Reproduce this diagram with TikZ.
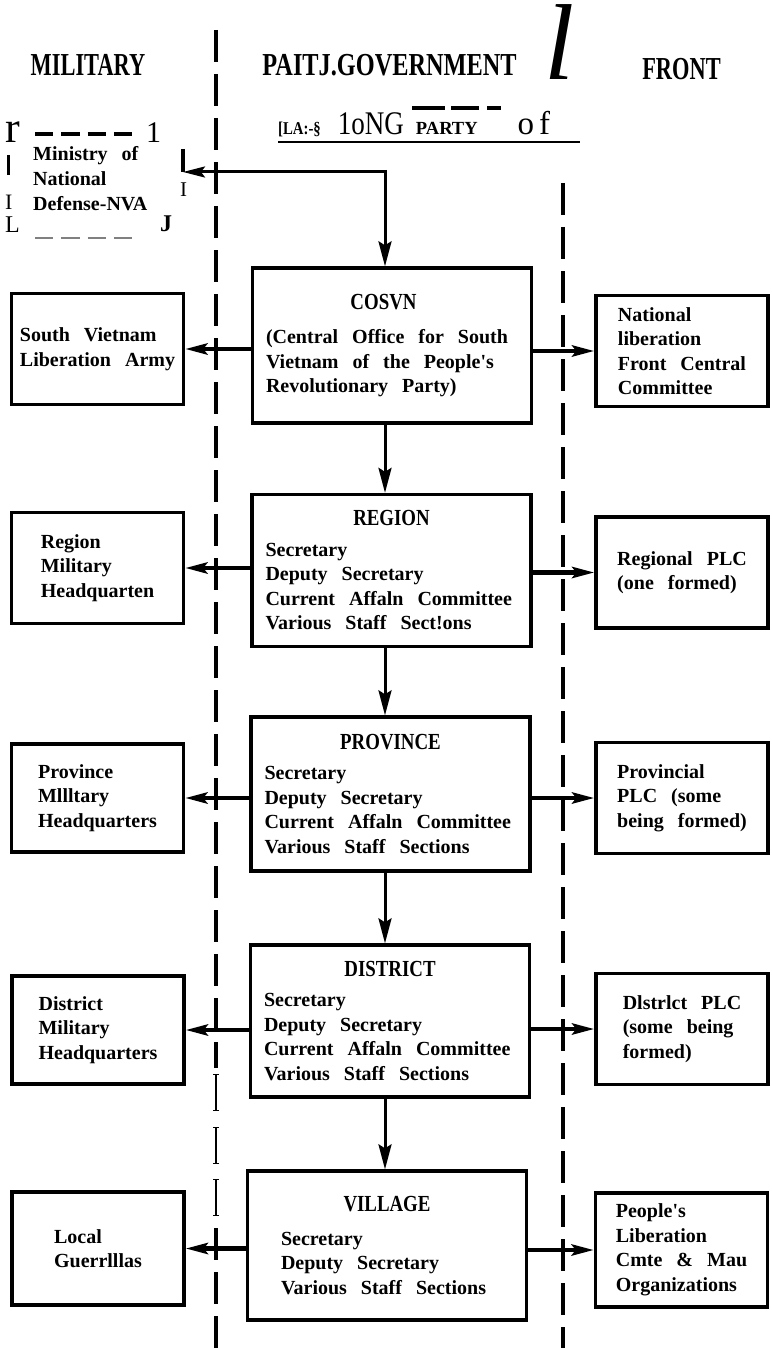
\documentclass[tikz,border=0pt]{standalone}
\usepackage{fontspec}
\usepackage{tikz}
\usetikzlibrary{arrows.meta}
\setmainfont{Liberation Serif}
\newfontfamily\boxfont{Liberation Serif}[WordSpace=2.8]
\newfontfamily\headfont{Liberation Serif}[FakeStretch=0.82]
\newfontfamily\titlefont{Liberation Serif}[FakeStretch=0.7]
\newfontfamily\govfont{Liberation Serif}[FakeStretch=0.76]
\newcommand\leveltitle[1]{{\headfont\bfseries\fontsize{23}{23}\selectfont #1}}
\tikzset{
    org-box/.style = {draw, line width=3.3pt, align=left, inner sep=0pt, font=\boxfont\bfseries\fontsize{20}{24.5}\selectfont},
    center-box/.style = {org-box, align=flush left, text width=252pt, minimum width=279pt, minimum height=152pt},
    side-box/.style = {org-box, minimum width=172pt, minimum height=111pt},
    column-title/.style = {anchor=base, inner sep=0pt, font=\titlefont\bfseries\fontsize{32}{32}\selectfont},
    glyph/.style = {anchor=base west, inner sep=0pt},
    down-arrow/.style = {line width=3pt, -{Stealth[length=25pt, width=13pt, inset=4pt]}},
    side-arrow/.style = {line width=4.5pt, -{Stealth[length=22pt, width=11pt, inset=4pt]}},
    divider/.style = {line width=3.5pt, dash pattern=on 32pt off 12pt},
}

\begin{document}
\begin{tikzpicture}[x=1pt, y=-1pt]
\useasboundingbox[fill=white] (0,0) rectangle (771,1348);

\node[column-title] (mil-title) at (88,76) {MILITARY};
\node[column-title, font=\govfont\bfseries\fontsize{32}{32}\selectfont] (gov-title) at (389.5,76) {PAITJ.GOVERNMENT};
\node[column-title] (front-title) at (681.5,80) {FRONT};
\node[anchor=base, inner sep=0pt, font=\fontsize{108}{108}\selectfont\itshape] (big-l) at (559,80) {\smash{l}};

\node[glyph] (party-line) at (278,135) {{\headfont\bfseries\fontsize{18}{18}\selectfont [LA:-§}\hspace{17pt}{\headfont\fontsize{33}{33}\selectfont 1oNG}\hspace{12pt}{\bfseries\fontsize{18.5}{18.5}\selectfont PARTY}\hspace{40pt}{\fontsize{33}{33}\selectfont o\hspace{5pt}f}};
\draw[line width=2pt] (278,142) -- (580,142);
\foreach \a/\b in {412/445, 451/479, 487/501}
    \draw[line width=3.5pt] (\a,108) -- (\b,108);

\draw[divider] (216,30) -- (216,1068);
\draw[divider] (216,1228) -- (216,1348);
\draw[divider] (563,183) -- (563,1348);
\foreach \y in {1074,1127,1179}
    \draw[line width=1.3pt, {Bar[width=6pt]}-{Bar[width=6pt]}] (216,\y) -- ++(0,37);

\node[glyph, font=\fontsize{44}{44}\selectfont] (mnd-r) at (5,143) {r};
\node[glyph, font=\fontsize{30}{30}\selectfont] (mnd-one) at (146,143) {1};
\node[glyph, font=\fontsize{22}{22}\selectfont] (mnd-i) at (5,210) {I};
\node[glyph, font=\fontsize{24}{24}\selectfont] (mnd-l) at (5,233) {L};
\node[glyph, font=\bfseries\fontsize{24}{24}\selectfont] (mnd-j) at (160,232) {J};
\node[glyph, font=\fontsize{21}{21}\selectfont] (mnd-i2) at (180,197) {I};
\draw[line width=4pt, dash pattern=on 18.3pt off 8pt] (35,134) -- (132,134);
\draw[gray, line width=2pt, dash pattern=on 18.3pt off 8pt] (35,238) -- (132,238);
\draw[line width=3pt] (8,155) -- (8,175);
\node[anchor=north west, align=left, inner sep=0pt, font=\boxfont\bfseries\fontsize{20}{25}\selectfont] (mnd) at (33,146) {Ministry of\\National\\Defense-NVA};

\node[center-box, minimum height=155pt] (cosvn) at (392,345.5) {\noindent\makebox[\hsize]{\leveltitle{COSVN}\hspace{17pt}}\\[10pt]
    (Central Office for South\\
    Vietnam of the People's\\
    Revolutionary Party)};
\node[center-box] (region) at (391.5,570.5) {\noindent\makebox[\hsize]{\leveltitle{REGION}}\\[6pt]
    Secretary\\
    Deputy Secretary\\
    Current Affaln Committee\\
    Various Staff Sect!ons};
\node[center-box, minimum height=154pt] (province) at (390.5,794) {\noindent\makebox[\hsize]{\leveltitle{PROVINCE}}\\[6pt]
    Secretary\\
    Deputy Secretary\\
    Current Affaln Committee\\
    Various Staff Sections};
\node[center-box] (district) at (390,1021) {\noindent\makebox[\hsize]{\leveltitle{DISTRICT}}\\[6pt]
    Secretary\\
    Deputy Secretary\\
    Current Affaln Committee\\
    Various Staff Sections};
\node[center-box, text width=212pt, minimum height=149pt] (village) at (387,1245.5) {\noindent\makebox[\hsize]{\leveltitle{VILLAGE}}\\[9pt]
    Secretary\\
    Deputy Secretary\\
    Various Staff Sections};

\node[side-box] (svla) at (97.5,349) {South Vietnam\\Liberation Army};
\node[side-box] (rmh) at (97.5,568) {Region\\Military\\Headquarten};
\node[side-box, minimum height=108pt] (pmh) at (97.5,798) {Province\\Mllltary\\Headquarters};
\node[side-box, minimum height=108pt] (dmh) at (98,1030) {District\\Military\\Headquarters};
\node[side-box, minimum height=113pt] (lg) at (98,1248.5) {Local\\Guerrlllas};

\node[side-box] (nlf) at (682,351) {National\\liberation\\Front Central\\Committee};
\node[side-box] (rplc) at (682,572.5) {Regional PLC\\(one formed)};
\node[side-box] (pplc) at (682,798) {Provincial\\PLC (some\\being formed)};
\node[side-box] (dplc) at (682,1029) {Dlstrlct PLC\\(some being\\formed)};
\node[side-box, minimum height=114pt] (plcm) at (681.5,1250) {People's\\Liberation\\Cmte \& Mau\\Organizations};

\coordinate (axis) at (385,0);
\coordinate (mnd-corner) at (183,149);
\coordinate (mnd-tip) at (183,172);
\draw[line width=3.5pt] (mnd-corner) -- (mnd-tip);
\draw[line width=3pt, {Stealth[length=22pt, width=11pt, inset=4pt]}-{Stealth[length=25pt, width=13pt, inset=4pt]}] (mnd-tip) -| (cosvn.north -| axis);

\foreach \a/\b in {cosvn/region, region/province, province/district, district/village}
    \draw[down-arrow] (\a.south -| axis) -- (\b.north -| axis);

\foreach \c/\l/\r in {cosvn/svla/nlf, region/rmh/rplc, province/pmh/pplc, district/dmh/dplc, village/lg/plcm} {
    \draw[side-arrow] (\c.west |- \l.east) -- (\l.east);
    \draw[side-arrow] (\c.east |- \r.west) -- (\r.west);
}
\end{tikzpicture}
\end{document}
